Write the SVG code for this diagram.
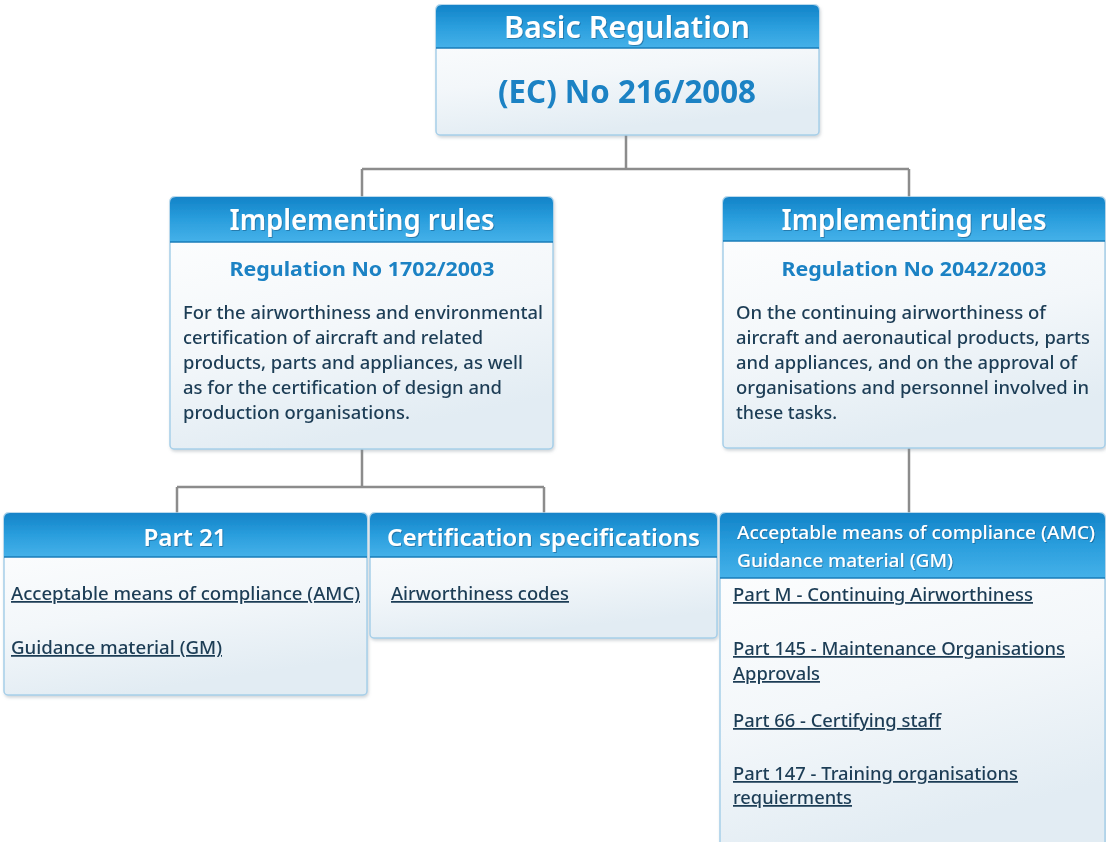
<svg xmlns="http://www.w3.org/2000/svg" width="1106" height="842" viewBox="0 0 1106 842">
<defs>
<linearGradient id="hdr" x1="0" y1="0" x2="0" y2="1">
<stop offset="0" stop-color="#1283c8"/>
<stop offset="0.5" stop-color="#2a9edd"/>
<stop offset="1" stop-color="#45b1e9"/>
</linearGradient>
<linearGradient id="body" x1="0" y1="0" x2="0.3" y2="1">
<stop offset="0" stop-color="#ffffff"/>
<stop offset="0.6" stop-color="#f3f7fa"/>
<stop offset="1" stop-color="#e2ecf3"/>
</linearGradient>
<filter id="sh" x="-5%" y="-5%" width="110%" height="115%">
<feDropShadow dx="1" dy="2" stdDeviation="1.5" flood-color="#7d8a94" flood-opacity="0.35"/>
</filter>
<filter id="ts" x="-5%" y="-20%" width="110%" height="140%">
<feDropShadow dx="1" dy="1" stdDeviation="0.6" flood-color="#0a4f7a" flood-opacity="0.5"/>
</filter>
</defs>
<style>
.box{fill:url(#body);stroke:#a6cfe9;stroke-width:1.5}
.hdr{fill:url(#hdr)}
.hline{stroke:#1a7db8;stroke-width:1.5}
.conn{fill:none;stroke:#8c8c8c;stroke-width:2.5}
text{font-family:"Noto Sans","Open Sans","Liberation Sans",sans-serif}
.ht{fill:#ffffff;font-weight:600}
.hs{fill:#ffffff;font-weight:500;font-size:17.5px}
.bt{fill:#1a82c4;font-weight:700}
.tx{fill:#1c3c55;font-size:17.5px;font-weight:500}
.ln{fill:#1c3c55;font-size:17.5px;font-weight:500;text-decoration:underline}
</style>
<rect width="1106" height="842" fill="#ffffff"/>
<g id="connectors">
<path class="conn" d="M626 135 V169 M362 169 H909 M362 169 V197 M909 169 V197"/>
<path class="conn" d="M362 449 V487 M177 487 H544 M177 487 V513 M544 487 V513"/>
<path class="conn" d="M909 448 V513"/>
</g>
<g id="basic-regulation" filter="url(#sh)">
<rect class="box" x="436" y="5" width="383" height="130" rx="4"/>
<path class="hdr" d="M436 48 V11 Q436 5 442 5 H813 Q819 5 819 11 V48 Z"/>
<line class="hline" x1="436" y1="48" x2="819" y2="48"/>
<text class="ht" x="627" y="38" font-size="31" text-anchor="middle" textLength="246" lengthAdjust="spacingAndGlyphs" filter="url(#ts)">Basic Regulation</text>
<text class="bt" x="627" y="103" font-size="32" text-anchor="middle" textLength="258" lengthAdjust="spacingAndGlyphs">(EC) No 216/2008</text>
</g>
<g id="implementing-rules-1702" filter="url(#sh)">
<rect class="box" x="170" y="197" width="383" height="252" rx="4"/>
<path class="hdr" d="M170 242 V203 Q170 197 176 197 H547 Q553 197 553 203 V242 Z"/>
<line class="hline" x1="170" y1="242" x2="553" y2="242"/>
<text class="ht" x="362" y="230" font-size="28" text-anchor="middle" textLength="265" lengthAdjust="spacingAndGlyphs" filter="url(#ts)">Implementing rules</text>
<text class="bt" x="362" y="276" font-size="20" text-anchor="middle" textLength="265" lengthAdjust="spacingAndGlyphs">Regulation No 1702/2003</text>
<text class="tx" x="183" y="319" textLength="360" lengthAdjust="spacingAndGlyphs">For the airworthiness and environmental</text>
<text class="tx" x="183" y="344" textLength="300" lengthAdjust="spacingAndGlyphs">certification of aircraft and related</text>
<text class="tx" x="183" y="369" textLength="340" lengthAdjust="spacingAndGlyphs">products, parts and appliances, as well</text>
<text class="tx" x="183" y="394" textLength="319" lengthAdjust="spacingAndGlyphs">as for the certification of design and</text>
<text class="tx" x="183" y="419" textLength="227" lengthAdjust="spacingAndGlyphs">production organisations.</text>
</g>
<g id="implementing-rules-2042" filter="url(#sh)">
<rect class="box" x="723" y="197" width="382" height="251" rx="4"/>
<path class="hdr" d="M723 241 V203 Q723 197 729 197 H1099 Q1105 197 1105 203 V241 Z"/>
<line class="hline" x1="723" y1="241" x2="1105" y2="241"/>
<text class="ht" x="914" y="230" font-size="28" text-anchor="middle" textLength="265" lengthAdjust="spacingAndGlyphs" filter="url(#ts)">Implementing rules</text>
<text class="bt" x="914" y="276" font-size="20" text-anchor="middle" textLength="265" lengthAdjust="spacingAndGlyphs">Regulation No 2042/2003</text>
<text class="tx" x="736" y="319" textLength="310" lengthAdjust="spacingAndGlyphs">On the continuing airworthiness of</text>
<text class="tx" x="736" y="344" textLength="354" lengthAdjust="spacingAndGlyphs">aircraft and aeronautical products, parts</text>
<text class="tx" x="736" y="369" textLength="341" lengthAdjust="spacingAndGlyphs">and appliances, and on the approval of</text>
<text class="tx" x="736" y="394" textLength="353" lengthAdjust="spacingAndGlyphs">organisations and personnel involved in</text>
<text class="tx" x="736" y="419" textLength="101" lengthAdjust="spacingAndGlyphs">these tasks.</text>
</g>
<g id="part-21" filter="url(#sh)">
<rect class="box" x="4" y="513" width="363" height="182" rx="4"/>
<path class="hdr" d="M4 557 V519 Q4 513 10 513 H361 Q367 513 367 519 V557 Z"/>
<line class="hline" x1="4" y1="557" x2="367" y2="557"/>
<text class="ht" x="185" y="546" font-size="24" text-anchor="middle" textLength="83" lengthAdjust="spacingAndGlyphs" filter="url(#ts)">Part 21</text>
<text class="ln" x="11" y="600" textLength="349" lengthAdjust="spacingAndGlyphs">Acceptable means of compliance (AMC)</text>
<text class="ln" x="11" y="654" textLength="211" lengthAdjust="spacingAndGlyphs">Guidance material (GM)</text>
</g>
<g id="certification-specifications" filter="url(#sh)">
<rect class="box" x="370" y="513" width="347" height="125" rx="4"/>
<path class="hdr" d="M370 557 V519 Q370 513 376 513 H711 Q717 513 717 519 V557 Z"/>
<line class="hline" x1="370" y1="557" x2="717" y2="557"/>
<text class="ht" x="387" y="546" font-size="24" textLength="313" lengthAdjust="spacingAndGlyphs" filter="url(#ts)">Certification specifications</text>
<text class="ln" x="391" y="600" textLength="178" lengthAdjust="spacingAndGlyphs">Airworthiness codes</text>
</g>
<g id="amc-gm-2042" filter="url(#sh)">
<rect class="box" x="720" y="513" width="385" height="340" rx="4"/>
<path class="hdr" d="M720 578 V519 Q720 513 726 513 H1099 Q1105 513 1105 519 V578 Z"/>
<line class="hline" x1="720" y1="578" x2="1105" y2="578"/>
<text class="hs" x="737" y="539" textLength="358" lengthAdjust="spacingAndGlyphs" filter="url(#ts)">Acceptable means of compliance (AMC)</text>
<text class="hs" x="737" y="567" textLength="216" lengthAdjust="spacingAndGlyphs" filter="url(#ts)">Guidance material (GM)</text>
<text class="ln" x="733" y="601" textLength="300" lengthAdjust="spacingAndGlyphs">Part M - Continuing Airworthiness</text>
<text class="ln" x="733" y="655" textLength="332" lengthAdjust="spacingAndGlyphs">Part 145 - Maintenance Organisations</text>
<text class="ln" x="733" y="680" textLength="87" lengthAdjust="spacingAndGlyphs">Approvals</text>
<text class="ln" x="733" y="727" textLength="208" lengthAdjust="spacingAndGlyphs">Part 66 - Certifying staff</text>
<text class="ln" x="733" y="780" textLength="285" lengthAdjust="spacingAndGlyphs">Part 147 - Training organisations</text>
<text class="ln" x="733" y="804" textLength="119" lengthAdjust="spacingAndGlyphs">requierments</text>
</g>
</svg>
